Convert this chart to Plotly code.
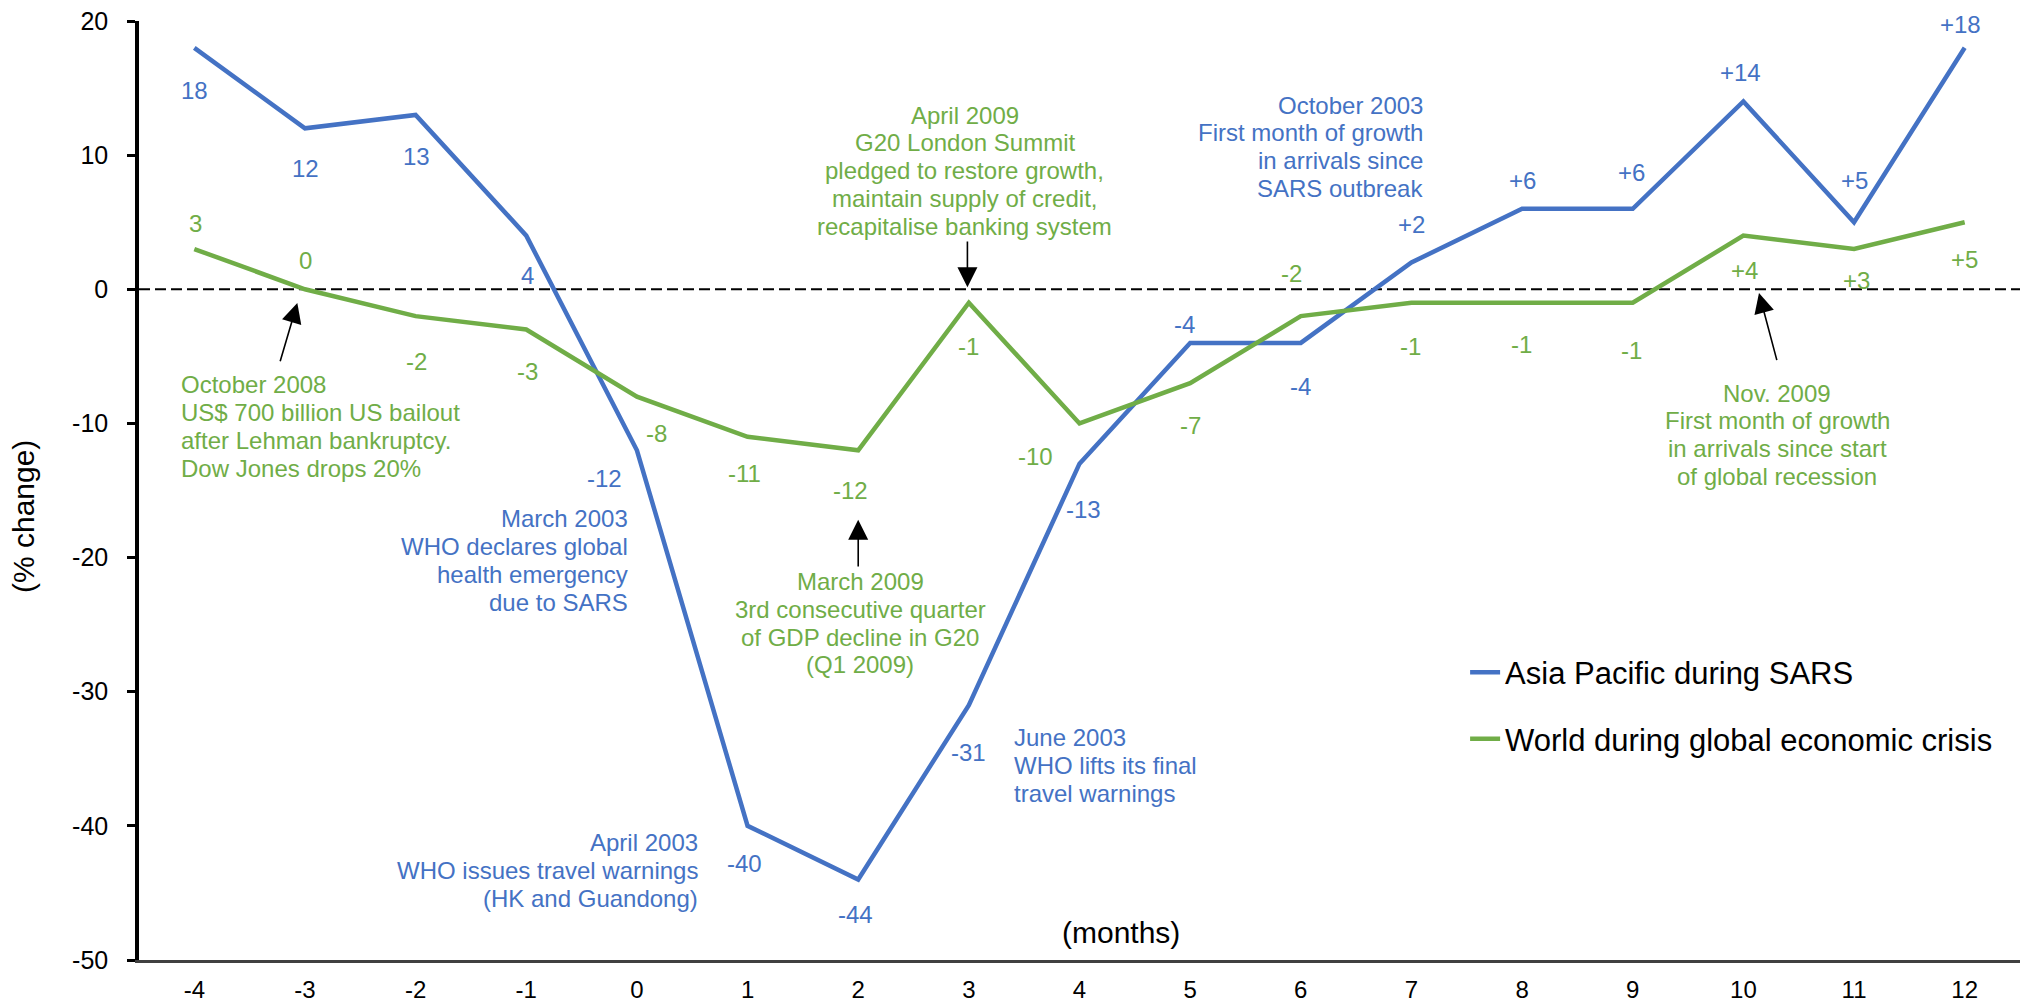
import plotly.graph_objects as go

# Month offsets relative to the onset of each shock
months = list(range(-4, 13))

# Year-on-year change in international arrivals (%)
asia_pacific_sars = [18, 12, 13, 4, -12, -40, -44, -31, -13, -4, -4, 2, 6, 6, 14, 5, 18]
world_crisis = [3, 0, -2, -3, -8, -11, -12, -1, -10, -7, -2, -1, -1, -1, 4, 3, 5]

y_ticks = [20, 10, 0, -10, -20, -30, -40, -50]

BLUE = "#4472C4"
GREEN = "#70AD47"
FONT = "Arial, 'Liberation Sans', sans-serif"

# Pixel offsets (dx, dy) of each value label from its point; dy > 0 means below
blue_label_offsets = [(0, 43), (1, 40), (1, 42), (1, 40), (-32, 28), (-3, 38), (-3, 35),
                      (0, 47), (4, 46), (-6, -18), (0, 44), (0, -38), (0, -28), (-1, -36),
                      (-3, -29), (0, -42), (-4, -23)]
green_label_offsets = [(1, -26), (1, -29), (1, 45), (1, 42), (20, 37), (-3, 37), (-8, 40),
                       (0, 44), (-44, 33), (0, 42), (-9, -43), (-1, 44), (-1, 42), (-1, 48),
                       (1, 35), (2, 31), (0, 37)]

# Event notes: text lines, colour, anchor (data coords), alignment
notes = [
    (["October 2008", "US$ 700 billion US bailout", "after Lehman bankruptcy.", "Dow Jones drops 20%"],
     GREEN, -4.136, -7.13, "left"),
    (["March 2003", "WHO declares global", "health emergency", "due to SARS"],
     BLUE, -0.058, -17.10, "right"),
    (["April 2003", "WHO issues travel warnings", "(HK and Guandong)"],
     BLUE, 0.571, -41.27, "right"),
    (["April 2009", "G20 London Summit", "pledged to restore growth,", "maintain supply of credit,",
      "recapitalise banking system"],
     GREEN, 2.965, 12.98, "center"),
    (["October 2003", "First month of growth", "in arrivals since", "SARS outbreak"],
     BLUE, 7.125, 13.73, "right"),
    (["March 2009", "3rd consecutive quarter", "of GDP decline in G20", "(Q1 2009)"],
     GREEN, 2.017, -21.79, "center"),
    (["June 2003", "WHO lifts its final", "travel warnings"],
     BLUE, 3.389, -33.45, "left"),
    (["Nov. 2009", "First month of growth", "in arrivals since start", "of global recession"],
     GREEN, 10.304, -7.74, "center"),
]
LINE_GAP = 27.8

# Pointer arrows: (tail, tip) in data coordinates
arrows = [
    ((-3.228, -5.47), (-3.069, -1.02)),
    ((2.987, 3.67), (2.987, 0.15)),
    ((2.0, -20.77), (2.0, -17.18)),
    ((10.306, -5.39), (10.141, -0.28)),
]


def value_label(month, value):
    return f"{value:+d}" if month >= 7 else f"{value:d}"


fig = go.Figure()
fig.add_trace(go.Scatter(x=months, y=asia_pacific_sars, mode="lines", name="Asia Pacific during SARS",
                         legendgroup="a", line=dict(color=BLUE, width=4.5), hoverinfo="skip"))
fig.add_trace(go.Scatter(x=months, y=world_crisis, mode="lines", name="World during global economic crisis",
                         legendgroup="b", line=dict(color=GREEN, width=4.5), hoverinfo="skip"))

annotations = []
for series, offsets, color in ((asia_pacific_sars, blue_label_offsets, BLUE),
                               (world_crisis, green_label_offsets, GREEN)):
    for m, v, (dx, dy) in zip(months, series, offsets):
        annotations.append(dict(x=m, y=v, xref="x", yref="y", text=value_label(m, v),
                                showarrow=False, xshift=dx, yshift=-dy,
                                xanchor="center", yanchor="middle",
                                font=dict(family=FONT, size=24, color=color)))

for lines, color, nx, ny, align in notes:
    for i, line in enumerate(lines):
        annotations.append(dict(x=nx, y=ny, xref="x", yref="y", text=line, showarrow=False,
                                xanchor=align, yanchor="middle", yshift=-i * LINE_GAP,
                                font=dict(family=FONT, size=24, color=color)))

for (tx, ty), (hx, hy) in arrows:
    annotations.append(dict(x=hx, y=hy, xref="x", yref="y", ax=tx, ay=ty, axref="x", ayref="y",
                            text="", showarrow=True, arrowhead=2, arrowsize=2.5, arrowwidth=1.6,
                            arrowcolor="black", standoff=0))

annotations.append(dict(x=4.372, y=-47.93, xref="x", yref="y", text="(months)", showarrow=False,
                        xanchor="center", yanchor="middle",
                        font=dict(family=FONT, size=30, color="black")))
annotations.append(dict(x=-0.061, y=0.472, xref="paper", yref="paper", text="(% change)",
                        showarrow=False, textangle=-90, xanchor="center", yanchor="middle",
                        font=dict(family=FONT, size=30, color="black")))

fig.add_shape(type="line", xref="paper", yref="y", x0=0, x1=1, y0=0, y1=0, layer="below",
              line=dict(color="black", width=2, dash="11px,5px"))

fig.update_layout(
    width=2031, height=1005,
    margin=dict(l=139, r=11, t=21, b=45, autoexpand=False),
    paper_bgcolor="white", plot_bgcolor="white",
    font=dict(family=FONT, color="black"),
    showlegend=True,
    legend=dict(x=0.705, y=0.3347, xanchor="left", yanchor="top", font=dict(family=FONT, size=31),
                bgcolor="rgba(0,0,0,0)", tracegroupgap=23),
    xaxis=dict(range=[-4.5, 12.5], showline=True, linecolor="#404040", linewidth=3,
               showgrid=False, zeroline=False, ticks="", tickvals=months,
               ticktext=[str(m) for m in months], tickfont=dict(size=24),
               ticklabelstandoff=6, automargin=False),
    yaxis=dict(range=[-50, 20], showline=True, linecolor="black", linewidth=3.5,
               ticks="outside", ticklen=8, tickwidth=3, tickcolor="black",
               tickvals=y_ticks, ticktext=[str(v) for v in y_ticks], tickfont=dict(size=25),
               showgrid=False, zeroline=False, ticklabelstandoff=14, automargin=False),
    yaxis2=dict(range=[-50, 20], overlaying="y", side="left", ticks="inside", ticklen=8,
                tickwidth=3, tickcolor="black", tickvals=y_ticks, showticklabels=False,
                showline=False, showgrid=False, zeroline=False, automargin=False),
    annotations=annotations,
)

fig.write_html("out.html", config={"displayModeBar": False})
